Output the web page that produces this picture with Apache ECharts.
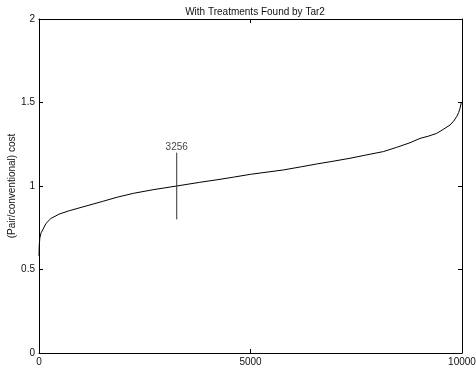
<!DOCTYPE html>
<html>
<head>
<meta charset="utf-8">
<script src="https://cdn.jsdelivr.net/npm/echarts@6/dist/echarts.min.js"></script>
<style>html,body{margin:0;padding:0;background:#fff;}#c{width:476px;height:371px;}</style>
</head>
<body>
<div id="c"></div>
<script>
var titleText = "With Treatments Found by Tar2";
var yAxisName = "(Pair/conventional) cost";
var xTicks = [0, 5000, 10000];
var yTicks = [0, 0.5, 1, 1.5, 2];
var sortedIndex = [0, 5, 20, 50, 87, 165, 284, 480, 716, 1111, 1506, 1850, 2230, 2700, 3256, 3800, 4279, 4600, 5000, 5775, 6200, 6565, 6900, 7352, 7700, 8140, 8450, 8771, 9007, 9200, 9401, 9550, 9716, 9800, 9874, 9920, 9953, 9985];
var costRatio = [0.58, 0.64, 0.69, 0.72, 0.737, 0.776, 0.806, 0.832, 0.852, 0.880, 0.908, 0.933, 0.956, 0.978, 1.0, 1.022, 1.040, 1.053, 1.070, 1.096, 1.115, 1.132, 1.146, 1.166, 1.184, 1.206, 1.231, 1.259, 1.285, 1.298, 1.315, 1.338, 1.365, 1.388, 1.415, 1.44, 1.465, 1.50];
var markerX = 3256;
var markerRange = [0.8, 1.2];
var markerLabel = "3256";

var chart = echarts.init(document.getElementById('c'));
var font = 'Liberation Sans, Arial, sans-serif';
var tickStyle = { show: true, inside: true, length: 4, lineStyle: { color: '#000' } };
function axisCommon(extra) {
  var a = {
    type: 'value',
    axisLine: { show: true, onZero: false, lineStyle: { color: '#000', width: 1 } },
    axisTick: tickStyle,
    splitLine: { show: false },
    axisLabel: { color: '#111', fontSize: 10, fontFamily: font, margin: 4,
      formatter: function (v) { return String(v); } }
  };
  for (var k in extra) a[k] = extra[k];
  return a;
}
var curve = sortedIndex.map(function (x, i) { return [x, costRatio[i]]; });
var marker = [[markerX, markerRange[0]], [markerX, markerRange[1]]];

chart.setOption({
  animation: false,
  backgroundColor: '#fff',
  title: {
    text: titleText, left: 250, top: 2, textAlign: 'center',
    textStyle: { fontSize: 10, fontWeight: 'normal', color: '#111', fontFamily: font }
  },
  grid: { left: 39, right: 14, top: 19, bottom: 18, containLabel: false, outerBoundsMode: 'none' },
  xAxis: [
    axisCommon({ min: 0, max: 10000, interval: 5000, position: 'bottom' }),
    axisCommon({ min: 0, max: 10000, interval: 5000, position: 'top', axisLabel: { show: false } })
  ],
  yAxis: [
    axisCommon({ min: 0, max: 2, interval: 0.5, position: 'left',
      name: yAxisName, nameLocation: 'middle', nameGap: 22, nameMoveOverlap: false,
      nameTextStyle: { fontSize: 10, color: '#111', fontFamily: font } }),
    axisCommon({ min: 0, max: 2, interval: 0.5, position: 'right', axisLabel: { show: false } })
  ],
  series: [
    {
      type: 'line', data: curve, showSymbol: false, symbol: 'none',
      smooth: false,
      lineStyle: { color: '#000', width: 1 }
    },
    {
      type: 'line', data: marker, symbol: 'none', showSymbol: false,
      lineStyle: { color: '#333', width: 1 }
    },
    {
      type: 'scatter', data: [[markerX, markerRange[1]]], symbolSize: 1,
      itemStyle: { color: 'rgba(0,0,0,0)' },
      label: { show: true, position: 'top', distance: 0, color: '#111', fontSize: 10, fontFamily: font,
        formatter: markerLabel }
    }
  ]
});
</script>
</body>
</html>
